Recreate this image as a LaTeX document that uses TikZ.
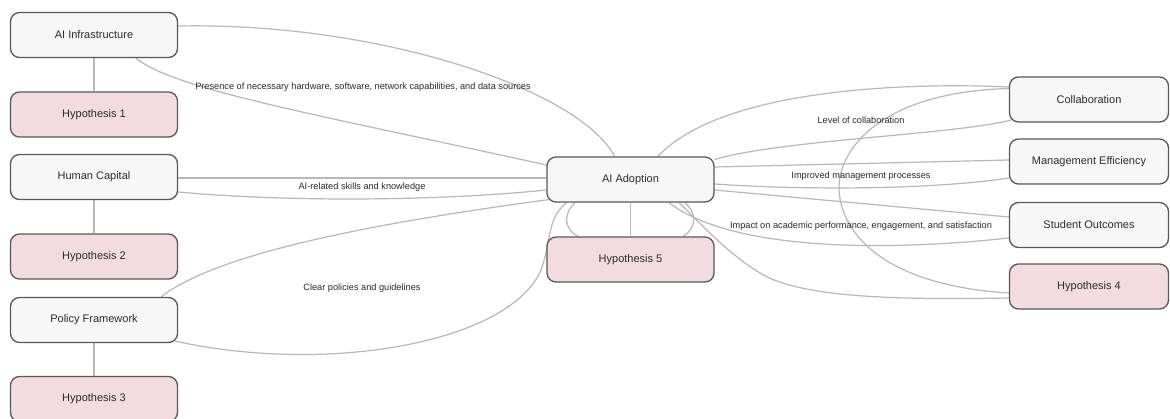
\documentclass[tikz,border=0pt]{standalone}
\usepackage{fontspec}
\setmainfont{Liberation Sans}
\usetikzlibrary{calc,backgrounds}
\definecolor{boxfill}{HTML}{F7F7F7}
\definecolor{hypfill}{HTML}{F2DCE1}
\definecolor{boxline}{HTML}{585858}
\definecolor{edgeline}{HTML}{B8B8B8}
\definecolor{txt}{HTML}{2B2B2B}
\begin{document}
\begin{tikzpicture}[x=1pt,y=-1pt,
  box/.style={draw=boxline, line width=1.3pt, rounded corners=9pt, fill=boxfill,
    minimum width=167pt, minimum height=45pt, inner sep=0pt,
    font=\fontsize{11}{13}\selectfont, text=txt},
  hyp/.style={box, fill=hypfill},
  rbox/.style={box, minimum width=159pt},
  rhyp/.style={hyp, minimum width=159pt},
  link/.style={draw=edgeline, line width=1.2pt},
  lbl/.style={font=\fontsize{9.2}{11}\selectfont, text=txt, inner sep=0pt}]
\useasboundingbox (0,0) rectangle (1170,418);

% nodes
\node[box] (infra) at (94,35) {AI Infrastructure};
\node[hyp] (h1) at (94,114.5) {Hypothesis 1};
\node[box] (human) at (94,177) {Human Capital};
\node[hyp] (h2) at (94,256.5) {Hypothesis 2};
\node[box] (policy) at (94,320) {Policy Framework};
\node[hyp] (h3) at (94,399) {Hypothesis 3};
\node[box] (adopt) at (630.5,179.5) {AI Adoption};
\node[hyp] (h5) at (630.5,259.5) {Hypothesis 5};
\node[rbox] (collab) at (1089,99.5) {Collaboration};
\node[rbox] (mgmt) at (1089,161.5) {Management Efficiency};
\node[rbox] (student) at (1089,225) {Student Outcomes};
\node[rhyp] (h4) at (1089,286.5) {Hypothesis 4};

% labels
\node[lbl] (l1) at (363,87) {Presence of necessary hardware, software, network capabilities, and data sources};
\node[lbl] (l2) at (362,187) {AI-related skills and knowledge};
\node[lbl] (l3) at (362,288) {Clear policies and guidelines};
\node[lbl] (l4) at (861,120) {Level of collaboration};
\node[lbl] (l5) at (861,176) {Improved management processes};
\node[lbl] (l6) at (861,226) {Impact on academic performance, engagement, and satisfaction};

\begin{pgfonlayer}{background}
\fill[white] (0,0) rectangle (1170,418);
% vertical links
\draw[link] (infra.south) -- (h1.north);
\draw[link] (human.south) -- (h2.north);
\draw[link] (policy.south) -- (h3.north);
\draw[link] (adopt.south) -- (h5.north);
% infrastructure
\draw[link] ([yshift=9pt]infra.east) .. controls (380,22) and (580,90) .. ([xshift=-16pt]adopt.north);
\draw[link] ([xshift=42pt]infra.south) .. controls (175,90) and (320,115) .. ([yshift=14.5pt]adopt.west);
% human capital
\draw[link] ([yshift=-1pt]human.east) -- ([yshift=1.5pt]adopt.west);
\draw[link] ([yshift=-15pt]human.east) .. controls (300,203) and (450,200) .. ([yshift=-10.5pt]adopt.west);
% policy
\draw[link] ([xshift=-17pt]policy.north east) .. controls (215,255) and (360,225) .. ([shift={(2pt,3pt)}]adopt.south west);
\draw[link] ([shift={(-3pt,2pt)}]policy.south east) .. controls (330,375) and (510,342) .. (541,270)
   .. controls (552,240) and (546,220) .. ([xshift=-64pt]adopt.south);
% hypothesis 5 loops
\draw[link] ([xshift=-55.5pt]adopt.south) .. controls (562,215) and (565,230) .. ([xshift=-52.5pt]h5.north);
\draw[link] ([xshift=54.5pt]adopt.south) .. controls (697,213) and (697,228) .. ([xshift=52.5pt]h5.north);
% collaboration
\draw[link] ([xshift=27.5pt]adopt.north) .. controls (720,90) and (900,82) .. ([yshift=12.5pt]collab.west);
\draw[link] ([yshift=20pt]adopt.east) .. controls (780,140) and (950,135) .. ([shift={(2pt,2.5pt)}]collab.south west);
% management
\draw[link] ([yshift=12.5pt]adopt.east) -- ([yshift=1.5pt]mgmt.west);
\draw[link] ([yshift=-4.5pt]adopt.east) .. controls (800,190) and (930,190) .. ([yshift=-16.5pt]mgmt.west);
% student outcomes
\draw[link] ([yshift=-10.5pt]adopt.east) -- ([yshift=8pt]student.west);
\draw[link] ([xshift=38.5pt]adopt.south) .. controls (730,250) and (880,252) .. ([yshift=-13pt]student.west);
% hypothesis 4
\draw[link] ([xshift=48.5pt]adopt.south) .. controls (705,228) and (730,255) .. (760,273)
   .. controls (800,298) and (900,300) .. ([yshift=-11.5pt]h4.west);
\draw[link] ([yshift=11pt]collab.west) .. controls (880,92) and (839,150) .. (839,187)
   .. controls (839,230) and (880,285) .. ([yshift=-6.5pt]h4.west);
\end{pgfonlayer}
\end{tikzpicture}
\end{document}
